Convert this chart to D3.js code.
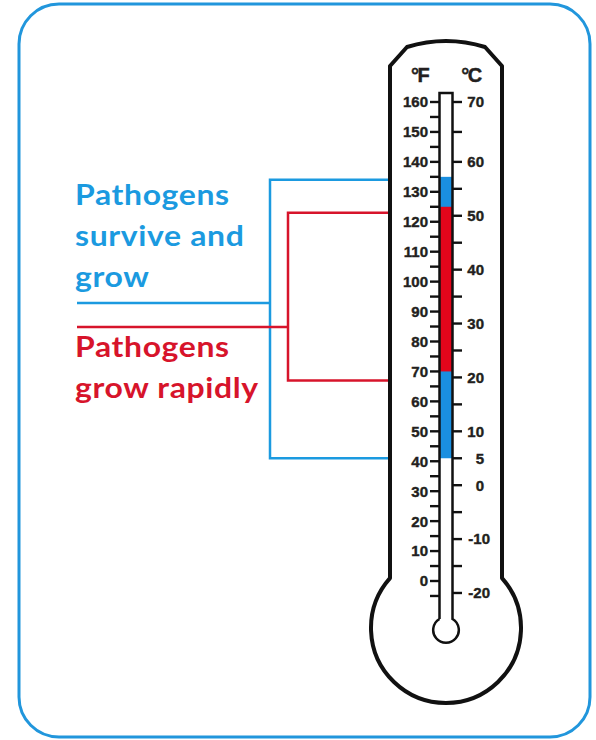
<!DOCTYPE html>
<html>
<head>
<meta charset="UTF-8">
<title>Pathogen temperature zones</title>
<style>
  body { margin: 0; background: #fff; }
  svg { display: block; }
  .tick-label {
    font-family: "Liberation Sans", Arial, sans-serif;
    font-weight: bold;
    font-size: 15px;
    fill: #231f20;
    stroke: #231f20;
    stroke-width: 0.4px;
  }
  .unit-label {
    font-family: "Liberation Sans", Arial, sans-serif;
    font-weight: bold;
    font-size: 20px;
    fill: #231f20;
    stroke: #231f20;
    stroke-width: 0.4px;
    letter-spacing: -1.5px;
  }
  .zone-label {
    font-family: Lato, "Open Sans", sans-serif;
    font-weight: bold;
    font-size: 29px;
    letter-spacing: 0.6px;
  }
</style>
</head>
<body>
<script src="https://d3js.org/d3.v7.min.js"></script>
<script>
// ticks and labels
var fahrenheitTicks = d3.range(-5, 161, 5);
var fahrenheitLabels = [160, 150, 140, 130, 120, 110, 100, 90, 80, 70, 60, 50, 40, 30, 20, 10, 0];
var celsiusTicks = d3.range(-20, 71, 5);
var celsiusLabels = [70, 60, 50, 40, 30, 20, 10, 5, 0, -10, -20];

// zones in degrees F: mercury column, then where the bracket meets the thermometer
var zoneNames = [["Pathogens", "survive and", "grow"], ["Pathogens", "grow rapidly"]];
var zoneColors = ["#1b9ae0", "#d7142b"];
var mercuryColors = ["#1a8fe0", "#e3051b"];
var zoneLow = [41, 70];
var zoneHigh = [135, 125];
var bracketLow = [41, 67];
var bracketHigh = [134, 123];

var W = 596, H = 740;

var svg = d3.select("body").append("svg")
    .attr("width", W)
    .attr("height", H);

// outer frame
svg.append("rect")
    .attr("x", 19).attr("y", 4)
    .attr("width", 571).attr("height", 733)
    .attr("rx", 40).attr("ry", 40)
    .attr("fill", "none")
    .attr("stroke", "#2196dc")
    .attr("stroke-width", 3);

// scales
var y = d3.scaleLinear().domain([0, 160]).range([581, 102]);
// celsius marks as drawn: 60C sits on 140F, 70C sits on 160F
var yC = d3.scaleLinear()
    .domain([-20, 60, 70])
    .range([y(-4), y(140), y(160)]);

var cx = 446;          // centre of the thermometer
var tubeL = 439.5, tubeR = 452.5;
var bodyL = 390, bodyR = 502;
var bulbR = 75, bulbY = 628;
var innerBulbR = 12.8, innerBulbY = 630;

// brackets and label lines
var bracketX = [270, 288];
var leaderY = [303, 327];
zoneNames.forEach(function(z, i) {
    var p = d3.path();
    p.moveTo(bodyL, y(bracketHigh[i]));
    p.lineTo(bracketX[i], y(bracketHigh[i]));
    p.lineTo(bracketX[i], y(bracketLow[i]));
    p.lineTo(bodyL, y(bracketLow[i]));
    p.moveTo(bracketX[i], leaderY[i]);
    p.lineTo(77, leaderY[i]);
    svg.append("path")
        .attr("d", p.toString())
        .attr("fill", "none")
        .attr("stroke", zoneColors[i])
        .attr("stroke-width", 2.5);
});

// zone text (the lettering is a touch wider than Lato, so stretch it)
var textBase = [[205, 246, 287], [357, 398]];
zoneNames.forEach(function(lines, i) {
    svg.append("g")
        .attr("transform", "translate(75,0) scale(1.1,1)")
        .selectAll("text")
        .data(lines)
        .join("text")
        .attr("class", "zone-label")
        .attr("x", 0)
        .attr("y", function(d, j) { return textBase[i][j]; })
        .attr("fill", zoneColors[i])
        .text(function(d) { return d; });
});

// thermometer body
var bulbHalf = Math.sqrt(bulbR * bulbR - (cx - bodyL) * (cx - bodyL));
var bodyBottom = bulbY - bulbHalf;
var body = d3.path();
body.moveTo(bodyL, bodyBottom);
body.lineTo(bodyL, 66);
body.lineTo(407, 47);
body.quadraticCurveTo(cx, 35, 485, 47);
body.lineTo(bodyR, 66);
body.lineTo(bodyR, bodyBottom);
var a0 = Math.atan2(bodyBottom - bulbY, bodyR - cx);
var a1 = Math.atan2(bodyBottom - bulbY, bodyL - cx);
body.arc(cx, bulbY, bulbR, a0, a1 + 2 * Math.PI, false);
body.closePath();
svg.append("path")
    .attr("d", body.toString())
    .attr("fill", "#fff")
    .attr("stroke", "#111")
    .attr("stroke-width", 4)
    .attr("stroke-linejoin", "round");

// mercury
svg.append("g").selectAll("rect")
    .data(zoneLow)
    .join("rect")
    .attr("x", tubeL)
    .attr("width", tubeR - tubeL)
    .attr("y", function(d, i) { return y(zoneHigh[i]); })
    .attr("height", function(d, i) { return y(d) - y(zoneHigh[i]); })
    .attr("fill", function(d, i) { return mercuryColors[i]; });

// inner tube and bulb
var tubeTop = 93;
var innerHalf = Math.sqrt(innerBulbR * innerBulbR - Math.pow((tubeR - tubeL) / 2, 2));
var tube = d3.path();
tube.moveTo(tubeL, innerBulbY - innerHalf);
tube.lineTo(tubeL, tubeTop);
tube.lineTo(tubeR, tubeTop);
tube.lineTo(tubeR, innerBulbY - innerHalf);
var b0 = Math.atan2(-innerHalf, (tubeR - tubeL) / 2);
var b1 = Math.atan2(-innerHalf, -(tubeR - tubeL) / 2);
tube.arc(cx, innerBulbY, innerBulbR, b0, b1 + 2 * Math.PI, false);
svg.append("path")
    .attr("d", tube.toString())
    .attr("fill", "none")
    .attr("stroke", "#111")
    .attr("stroke-width", 2.5);

// fahrenheit ticks
svg.append("g").selectAll("line")
    .data(fahrenheitTicks)
    .join("line")
    .attr("x1", 430).attr("x2", tubeL)
    .attr("y1", function(d) { return y(d); })
    .attr("y2", function(d) { return y(d); })
    .attr("stroke", "#111")
    .attr("stroke-width", 2.4);

svg.append("g").selectAll("text")
    .data(fahrenheitLabels)
    .join("text")
    .attr("class", "tick-label")
    .attr("x", 428)
    .attr("y", function(d) { return y(d); })
    .attr("dy", "0.36em")
    .attr("text-anchor", "end")
    .text(function(d) { return d; });

// celsius ticks
svg.append("g").selectAll("line")
    .data(celsiusTicks)
    .join("line")
    .attr("x1", tubeR).attr("x2", 462)
    .attr("y1", function(d) { return yC(d); })
    .attr("y2", function(d) { return yC(d); })
    .attr("stroke", "#111")
    .attr("stroke-width", 2.4);

svg.append("g").selectAll("text")
    .data(celsiusLabels)
    .join("text")
    .attr("class", "tick-label")
    .attr("x", function(d) { return d < 0 ? 490 : 484; })
    .attr("y", function(d) { return yC(d); })
    .attr("dy", "0.36em")
    .attr("text-anchor", "end")
    .text(function(d) { return d; });

// unit headers
svg.append("text").attr("class", "unit-label")
    .attr("x", 419.5).attr("y", 82).attr("text-anchor", "middle").text("°F");
svg.append("text").attr("class", "unit-label")
    .attr("x", 471).attr("y", 82).attr("text-anchor", "middle").text("°C");
</script>
</body>
</html>
